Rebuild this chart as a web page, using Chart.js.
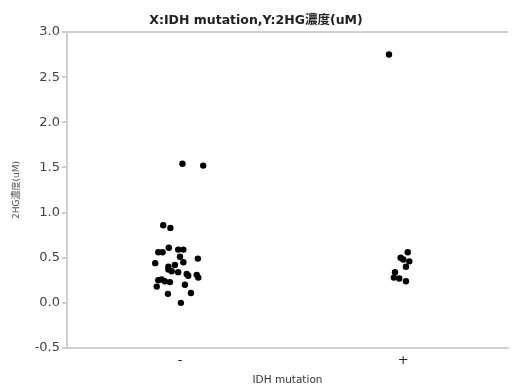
<!DOCTYPE html>
<html>
<head>
<meta charset="utf-8">
<script src="https://cdn.jsdelivr.net/npm/chart.js@4/dist/chart.umd.min.js"></script>
<style>
html,body{margin:0;padding:0;background:#fff;}
#wrap{width:512px;height:388px;}
</style>
</head>
<body>
<div id="wrap"><canvas id="c" width="512" height="388"></canvas></div>
<script>
const chartTitle = 'X:IDH mutation,Y:2HG濃度(uM)';
const xTitle = 'IDH mutation';
const yTitle = '2HG濃度(uM)';
const categories = ['-', '+'];
const yTickValues = [-0.5, 0.0, 0.5, 1.0, 1.5, 2.0, 2.5, 3.0];

// group "-" (category 0): jitter offsets and 2HG values
const negJitter = [0.011, 0.104, -0.075, -0.043, -0.050, -0.097, -0.078, -0.008, 0.015, 0.000,
  0.080, -0.111, 0.015, -0.052, -0.023, -0.052, -0.037, -0.008, 0.030, 0.037,
  0.075, 0.082, -0.097, -0.082, -0.068, -0.045, 0.022, -0.104, -0.054, 0.049, 0.004];
const negValues = [1.54, 1.52, 0.86, 0.83, 0.61, 0.56, 0.56, 0.59, 0.59, 0.51,
  0.49, 0.44, 0.45, 0.40, 0.42, 0.37, 0.35, 0.34, 0.32, 0.30,
  0.31, 0.28, 0.25, 0.26, 0.24, 0.23, 0.20, 0.18, 0.10, 0.11, 0.00];

// group "+" (category 1)
const posJitter = [-0.064, 0.020, -0.012, 0.000, 0.027, 0.012, -0.037, -0.042, -0.018, 0.012];
const posValues = [2.75, 0.56, 0.50, 0.48, 0.46, 0.40, 0.34, 0.28, 0.27, 0.24];

function toPoints(catIndex, jit, vals) {
  return vals.map((v, i) => ({ x: catIndex + jit[i], y: v }));
}

const FONT = "'DejaVu Sans','Noto Sans CJK JP',sans-serif";
const AXIS_GRAY = '#d0d0d0';

new Chart(document.getElementById('c'), {
  type: 'scatter',
  data: {
    datasets: [
      { label: categories[0], data: toPoints(0, negJitter, negValues), backgroundColor: '#000', borderColor: '#000', pointRadius: 3.2, borderWidth: 0 },
      { label: categories[1], data: toPoints(1, posJitter, posValues), backgroundColor: '#000', borderColor: '#000', pointRadius: 3.2, borderWidth: 0 }
    ]
  },
  options: {
    responsive: false,
    animation: false,
    layout: { padding: 0 },
    plugins: {
      legend: { display: false },
      tooltip: { enabled: false },
      title: {
        display: true,
        text: chartTitle,
        color: '#222',
        font: { family: FONT, size: 12.5, weight: 'bold' },
        padding: { top: 13, bottom: 4 }
      }
    },
    scales: {
      x: {
        type: 'linear',
        min: -0.506,
        max: 1.469,
        afterBuildTicks: s => { s.ticks = categories.map((c, i) => ({ value: i })); },
        afterFit: s => { s.height = 40; s.paddingLeft = 0; s.paddingRight = 0; },
        ticks: {
          callback: v => categories[v],
          color: '#222',
          font: { family: FONT, size: 13 },
          padding: 5,
          maxRotation: 0
        },
        grid: { display: false, drawTicks: false },
        border: { display: true, color: AXIS_GRAY, width: 2 },
        title: {
          display: true,
          text: xTitle,
          color: '#333',
          font: { family: FONT, size: 10.5 },
          padding: { top: 0, bottom: 1 }
        }
      },
      y: {
        type: 'linear',
        min: -0.5,
        max: 3.0,
        afterBuildTicks: s => { s.ticks = yTickValues.map(v => ({ value: v })); },
        afterFit: s => { s.width = 67; s.paddingTop = 0; s.paddingBottom = 0; },
        ticks: {
          callback: v => Number(v).toFixed(1),
          color: '#444',
          font: { family: FONT, size: 13 },
          padding: 2
        },
        grid: {
          display: true,
          drawOnChartArea: true,
          color: ctx => (ctx.tick && ctx.tick.value === 3 ? AXIS_GRAY : 'rgba(0,0,0,0)'),
          tickColor: AXIS_GRAY,
          tickLength: 5,
          lineWidth: 2
        },
        border: { display: true, color: AXIS_GRAY, width: 2 },
        title: {
          display: true,
          text: yTitle,
          color: '#555',
          font: { family: FONT, size: 9 },
          padding: { top: 11, bottom: 0 }
        }
      }
    }
  }
});
</script>
</body>
</html>
